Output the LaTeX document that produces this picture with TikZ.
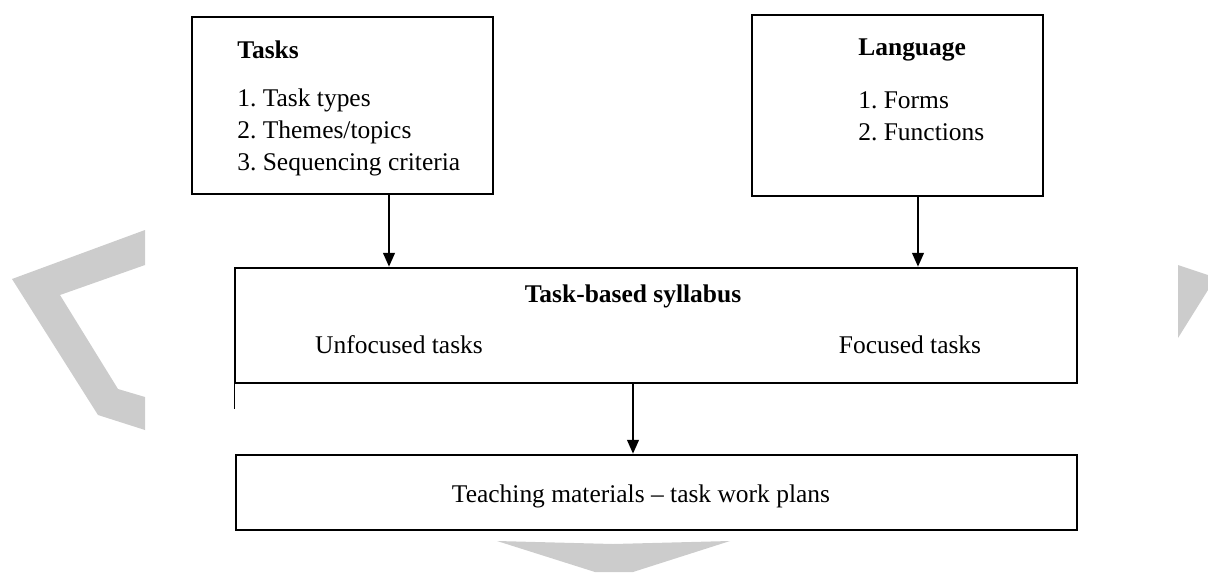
\documentclass[tikz,border=0pt]{standalone}
\usepackage{fontspec}
\setmainfont{Liberation Serif}
\usetikzlibrary{arrows.meta}
\definecolor{wmgray}{RGB}{204,204,204}
\frenchspacing

\begin{document}
\begin{tikzpicture}[x=0.02cm, y=-0.02cm,
  box/.style={draw, line width=1.3pt, inner sep=0pt},
  lbl/.style={font=\fontsize{14.5}{18.4}\selectfont, inner sep=0pt},
  ttl/.style={font=\fontsize{14.5}{18.4}\selectfont\bfseries, inner sep=0pt},
  arr/.style={-{Triangle[length=8pt,width=6.5pt]}, line width=1.6pt},
  wm/.style={fill=wmgray, draw=none}]
  \useasboundingbox (0,0) rectangle (1208,572);

  % watermark shapes
  \fill[wm] (12,279) -- (145,230) -- (145,265) -- (60,295) -- (118,389) -- (145,397) -- (145,430) -- (98,415) -- cycle;
  \fill[wm] (1178,265) -- (1208,275) -- (1208,290) -- (1178,338) -- cycle;
  \fill[wm] (497,541) -- (613,544) -- (730,541) -- (633,572) -- (595,572) -- cycle;

  % boxes
  \node[box, minimum width=6.02cm, minimum height=3.54cm] (tasks) at (342.5,105.5) {};
  \node[box, minimum width=5.82cm, minimum height=3.62cm] (lang) at (897.5,105.5) {};
  \node[box, minimum width=16.84cm, minimum height=2.3cm] (syll) at (656,325.5) {};
  \node[box, minimum width=16.82cm, minimum height=1.5cm] (teach) at (656.5,492.5) {};

  % texts
  \node[ttl, anchor=west] (tasksT) at (237,50) {Tasks};
  \node[lbl, anchor=west, align=left] (tasksL) at (237,132.5) {1. Task types\\2. Themes/topics\\3. Sequencing criteria};
  \node[ttl, anchor=west] (langT) at (858,50) {Language};
  \node[lbl, anchor=west, align=left] (langL) at (858,116.5) {1. Forms\\2. Functions};
  \node[ttl] (syllT) at (633,296) {Task-based syllabus};
  \node[lbl] (unfoc) at (399,345) {Unfocused tasks};
  \node[lbl] (foc) at (910,345) {Focused tasks};
  \node[lbl] (teachT) at (641,496) {Teaching materials -- task work plans};

  % arrows
  \draw[arr] (389,0 |- tasks.south) -- (389,0 |- syll.north);
  \draw[arr] (918,0 |- lang.south) -- (918,0 |- syll.north);
  \draw[arr] (633,0 |- syll.south) -- (633,0 |- teach.north);
  \draw[line width=0.5pt] (syll.south west) -- ++(0,25);
\end{tikzpicture}
\end{document}
